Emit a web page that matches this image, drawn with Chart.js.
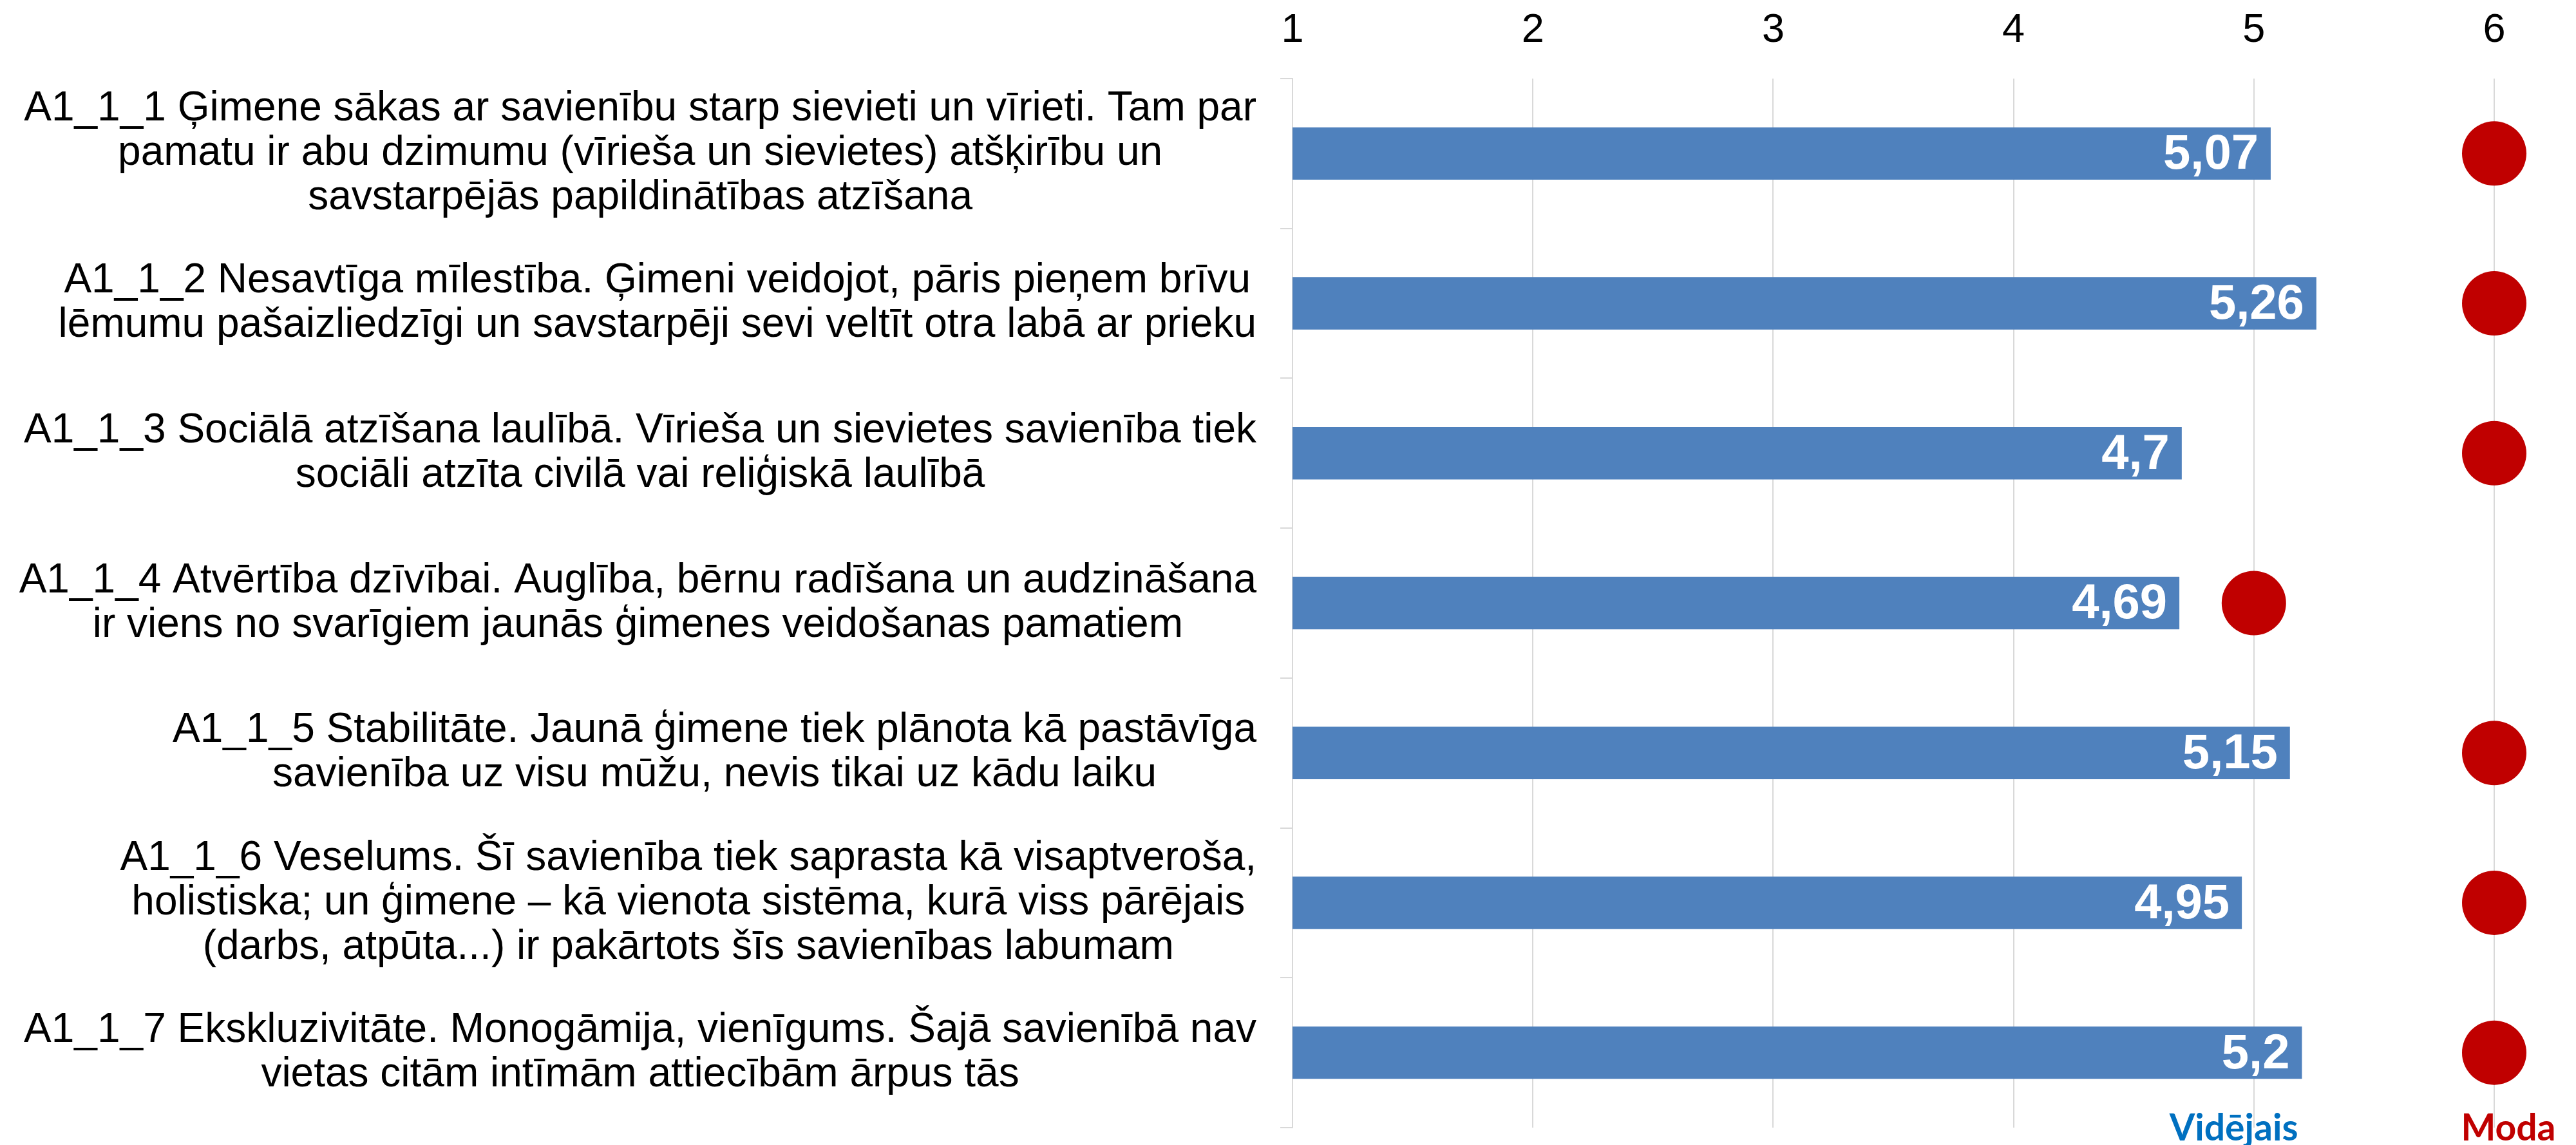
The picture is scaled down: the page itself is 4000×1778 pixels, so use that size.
<!DOCTYPE html>
<html>
<head>
<meta charset="utf-8">
<script src="https://cdn.jsdelivr.net/npm/chart.js@4"></script>
<style>
    html, body { margin: 0; padding: 0; background: #ffffff; }
    canvas { display: block; }
</style>
</head>
<body>
<canvas id="chart" width="4000" height="1778"></canvas>
<script>
// Category labels (already wrapped the way the reference wraps them)
const categories = [
    ['A1_1_1 Ģimene sākas ar savienību starp sievieti un vīrieti. Tam par', 'pamatu ir abu dzimumu (vīrieša un sievietes) atšķirību un', 'savstarpējās papildinātības atzīšana'],
    ['A1_1_2 Nesavtīga mīlestība. Ģimeni veidojot, pāris pieņem brīvu', 'lēmumu pašaizliedzīgi un savstarpēji sevi veltīt otra labā ar prieku'],
    ['A1_1_3 Sociālā atzīšana laulībā. Vīrieša un sievietes savienība tiek', 'sociāli atzīta civilā vai reliģiskā laulībā'],
    ['A1_1_4 Atvērtība dzīvībai. Auglība, bērnu radīšana un audzināšana', 'ir viens no svarīgiem jaunās ģimenes veidošanas pamatiem'],
    ['A1_1_5 Stabilitāte. Jaunā ģimene tiek plānota kā pastāvīga', 'savienība uz visu mūžu, nevis tikai uz kādu laiku'],
    ['A1_1_6 Veselums. Šī savienība tiek saprasta kā visaptveroša,', 'holistiska; un ģimene – kā vienota sistēma, kurā viss pārējais', '(darbs, atpūta...) ir pakārtots šīs savienības labumam'],
    ['A1_1_7 Ekskluzivitāte. Monogāmija, vienīgums. Šajā savienībā nav', 'vietas citām intīmām attiecībām ārpus tās']
];

// Series values
const meanValues = [5.07, 5.26, 4.7, 4.69, 5.15, 4.95, 5.2];
const modeValues = [6, 6, 6, 5, 6, 6, 6];

// Axis ticks
const axisMin = 1;
const axisMax = 6;

// Series names shown under the chart
const seriesNames = ['Vidējais', 'Moda'];
const seriesColors = ['#0070C0', '#C00000'];

const LABEL_FONT = '64px "Liberation Sans", Arial, sans-serif';
const LABEL_LINE = 69;

// Draw category labels: block right aligned to the axis, lines centered inside the block
const categoryLabels = {
    id: 'categoryLabels',
    afterDraw(chart) {
        const ctx = chart.ctx;
        const y = chart.scales.y;
        const right = chart.chartArea.left - 19 - 37;
        ctx.save();
        ctx.font = LABEL_FONT;
        ctx.fillStyle = '#000000';
        ctx.textAlign = 'center';
        ctx.textBaseline = 'middle';
        categories.forEach((lines, i) => {
            const blockW = Math.max(...lines.map(l => ctx.measureText(l).width));
            const cx = right - blockW / 2;
            const cy = y.getPixelForValue(i);
            const top = cy - (lines.length - 1) * LABEL_LINE / 2;
            lines.forEach((line, j) => {
                ctx.fillText(line, cx, top + j * LABEL_LINE);
            });
        });
        ctx.restore();
    }
};

// Value labels inside the bar ends, decimal comma
const barValueLabels = {
    id: 'barValueLabels',
    afterDatasetsDraw(chart) {
        const ctx = chart.ctx;
        const meta = chart.getDatasetMeta(0);
        ctx.save();
        ctx.font = 'bold 76px "Liberation Sans", Arial, sans-serif';
        ctx.fillStyle = '#ffffff';
        ctx.textAlign = 'right';
        ctx.textBaseline = 'middle';
        meta.data.forEach((bar, i) => {
            const txt = String(meanValues[i]).replace('.', ',');
            ctx.fillText(txt, bar.x - 19, bar.y + 3);
        });
        ctx.restore();
    }
};

// Series names under the plot
const seriesFooter = {
    id: 'seriesFooter',
    afterDraw(chart) {
        const ctx = chart.ctx;
        const x = chart.scales.x;
        const base = 1771;
        ctx.save();
        ctx.font = 'bold 57px Lato, "Open Sans", sans-serif';
        ctx.textBaseline = 'alphabetic';
        ctx.fillStyle = seriesColors[0];
        ctx.textAlign = 'right';
        ctx.fillText(seriesNames[0], x.getPixelForValue(meanValues[6]) - 6, base);
        ctx.fillStyle = seriesColors[1];
        ctx.textAlign = 'center';
        ctx.fillText(seriesNames[1], x.getPixelForValue(axisMax) + 22, base);
        ctx.restore();
    }
};

function init() {
    const ctx = document.getElementById('chart').getContext('2d');
    new Chart(ctx, {
        type: 'bar',
        data: {
            labels: categories,
            datasets: [{
                label: seriesNames[0],
                data: meanValues,
                backgroundColor: '#4F81BD',
                borderWidth: 0,
                barPercentage: 0.35,
                categoryPercentage: 1,
                order: 2
            }, {
                type: 'line',
                label: seriesNames[1],
                data: modeValues,
                showLine: false,
                pointRadius: 50,
                pointHoverRadius: 50,
                pointBackgroundColor: '#C00000',
                pointBorderWidth: 0,
                clip: false,
                order: 1
            }]
        },
        options: {
            indexAxis: 'y',
            responsive: false,
            animation: false,
            devicePixelRatio: 1,
            layout: {
                autoPadding: false,
                padding: { left: 30, right: 127, top: 5, bottom: 27 }
            },
            plugins: {
                legend: { display: false },
                tooltip: { enabled: false }
            },
            scales: {
                x: {
                    position: 'top',
                    min: axisMin,
                    max: axisMax,
                    afterFit(scale) { scale.height = 117; },
                    ticks: {
                        stepSize: 1,
                        padding: 37,
                        color: '#000000',
                        font: { family: '"Liberation Sans", Arial, sans-serif', size: 63 }
                    },
                    grid: {
                        color: '#d9d9d9',
                        lineWidth: 2,
                        drawTicks: false
                    },
                    border: { display: false }
                },
                y: {
                    afterFit(scale) {
                        scale.width = 1977;
                        scale.paddingTop = 0;
                        scale.paddingBottom = 0;
                    },
                    ticks: {
                        // labels are drawn by the categoryLabels plugin
                        callback: () => '',
                        padding: 0,
                        font: { size: 1 }
                    },
                    grid: {
                        offset: true,
                        drawOnChartArea: false,
                        drawTicks: true,
                        tickLength: 19,
                        color: '#d9d9d9',
                        lineWidth: 2
                    },
                    border: { display: true, color: '#d9d9d9', width: 2 }
                }
            }
        },
        plugins: [categoryLabels, barValueLabels, seriesFooter]
    });
}

document.addEventListener('DOMContentLoaded', init);
</script>
</body>
</html>
